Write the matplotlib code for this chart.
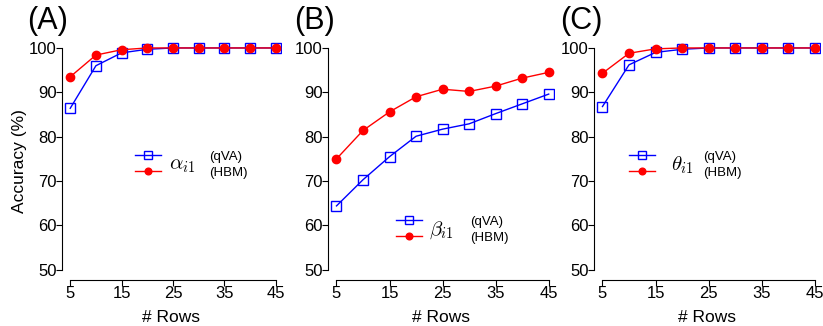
import matplotlib.pyplot as plt

plt.rcParams['font.family'] = ['Liberation Sans', 'DejaVu Sans']
plt.rcParams['mathtext.fontset'] = 'cm'

rows = [5, 10, 15, 20, 25, 30, 35, 40, 45]

alpha_qva = [86.4, 96.0, 98.9, 99.7, 100, 100, 100, 100, 100]
alpha_hbm = [93.5, 98.4, 99.6, 100, 100, 100, 100, 100, 100]

beta_qva = [64.4, 70.3, 75.5, 80.1, 81.7, 82.9, 85.2, 87.4, 89.6]
beta_hbm = [75.0, 81.4, 85.6, 89.0, 90.7, 90.2, 91.4, 93.2, 94.5]

theta_qva = [86.8, 96.2, 99.0, 99.7, 100, 100, 100, 100, 100]
theta_hbm = [94.3, 98.8, 99.8, 100, 100, 100, 100, 100, 100]

panels = [
    ("(A)", r"$\alpha_{i1}$", alpha_qva, alpha_hbm),
    ("(B)", r"$\beta_{i1}$", beta_qva, beta_hbm),
    ("(C)", r"$\theta_{i1}$", theta_qva, theta_hbm),
]

W, H = 823, 326
fig = plt.figure(figsize=(W / 100, H / 100), dpi=100)

# pixel layout per panel: left spine x, axes width, legend handle x, legend y, symbol x, panel-label x
layout = [
    (62, 219, 135, 164.5, 169, 48),
    (328, 226, 396, 229.5, 429, 314),
    (594, 226, 629, 164.5, 671, 581),
]

ax_bottom = 280
ax_top = 41.3

for (tag, sym, qva, hbm), (lx, w, hx, hy, sx, tx) in zip(panels, layout):
    ax = fig.add_axes([lx / W, 1 - ax_bottom / H, w / W, (ax_bottom - ax_top) / H])
    ax.plot(rows, qva, color='blue', lw=1, marker='s', ms=7, mfc='none', mec='blue', mew=1,
            label='(qVA)')
    ax.plot(rows, hbm, color='red', lw=1, marker='o', ms=6, mfc='red', mec='red',
            label='(HBM)')
    ax.set_xlim(3.4, 46)
    ax.set_ylim(47.7, 101.5)
    for s in ['top', 'right']:
        ax.spines[s].set_visible(False)
    ax.spines['left'].set_bounds(50, 100)
    ax.spines['bottom'].set_bounds(5, 45)
    ax.set_xticks([5, 15, 25, 35, 45])
    ax.set_yticks([50, 60, 70, 80, 90, 100])
    ax.tick_params(axis='both', labelsize=12, length=4, width=0.8, pad=0)
    ax.set_xlabel('# Rows', fontsize=12.5, labelpad=7)
    if tag == "(A)":
        ax.set_ylabel('Accuracy (%)', fontsize=12.5, labelpad=1)

    ax.legend(loc='center left', bbox_to_anchor=(hx / W, 1 - hy / H),
              bbox_transform=fig.transFigure, frameon=False, fontsize=9.5,
              handlelength=2.0, handletextpad=3.6, labelspacing=0.3,
              borderpad=0, borderaxespad=0, markerscale=0.8)
    fig.text(sx / W, 1 - (hy + 1) / H, sym, fontsize=15, ha='left', va='center')
    fig.text(tx / W, 1 - 21 / H, tag, fontsize=22, ha='center', va='center')

fig.savefig('out.png', dpi=100)
